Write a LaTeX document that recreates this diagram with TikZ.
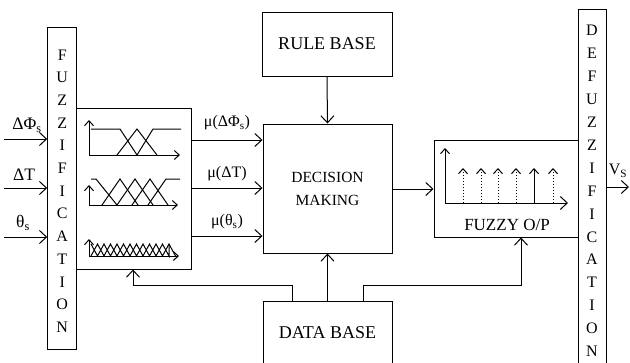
\documentclass[tikz,border=0pt]{standalone}
\usepackage{fontspec}
\setmainfont{Liberation Serif}
\usetikzlibrary{arrows.meta}
\begin{document}
\begin{tikzpicture}[x=1pt,y=-1pt,line width=1pt,
  box/.style={draw,inner sep=0pt,line width=1pt},
  arr/.style={-{Straight Barb[length=7pt,width=13pt,line width=1pt]}},
  sarr/.style={-{Straight Barb[length=5pt,width=9pt,line width=1pt]}},
  lbl/.style={inner sep=0pt,font=\fontsize{16}{18}\selectfont},
  col/.style={inner sep=0pt,align=center,font=\fontsize{16}{22.7}\selectfont}]
\useasboundingbox (0,0) rectangle (630,362);

% boxes
\node[box,minimum width=29pt,minimum height=322pt] (fuzz) at (62.2,188) {};
\node[col] (fuzzt) at (62.2,191)
  {F\\U\\Z\\Z\\I\\F\\I\\C\\A\\T\\I\\O\\N};
\node[box,minimum width=114.3pt,minimum height=161pt] (memb) at (133.85,188.5) {};
\node[box,minimum width=130pt,minimum height=64pt,font=\fontsize{18}{20}\selectfont] (rule) at (327,44) {RULE BASE};
\node[box,minimum width=129pt,minimum height=129pt,align=center,font=\fontsize{15.5}{23}\selectfont] (dec) at (327.5,188.5) {DECISION\\MAKING};
\node[box,minimum width=129pt,minimum height=64pt,font=\fontsize{18}{20}\selectfont] (data) at (327.5,333) {DATA BASE};
\node[box,minimum width=144pt,minimum height=97pt] (fop) at (506,188.5) {};
\node[box,minimum width=28pt,minimum height=363pt] (defuzz) at (592,190.5) {};
\node[col,font=\fontsize{16}{22.9}\selectfont] (defuzzt) at (592,191)
  {D\\E\\F\\U\\Z\\Z\\I\\F\\I\\C\\A\\T\\I\\O\\N};

% inputs
\coordinate (i1) at (4,139);
\coordinate (i2) at (4,188);
\coordinate (i3) at (4,237);
\draw[arr] (i1) -- (i1 -| fuzz.west);
\draw[arr] (i2) -- (i2 -| fuzz.west);
\draw[arr] (i3) -- (i3 -| fuzz.west);
\node[lbl,font=\fontsize{17.5}{19}\selectfont] (li1) at (27,125) {ΔΦ\textsubscript{s}};
\node[lbl,font=\fontsize{17.5}{19}\selectfont] (li2) at (24,175) {ΔT};
\node[lbl,font=\fontsize{17.5}{19}\selectfont] (li3) at (23,223) {θ\textsubscript{s}};

% membership to decision
\coordinate (m1) at (0,140);
\coordinate (m2) at (0,188);
\coordinate (m3) at (0,236);
\draw[arr] (memb.east |- m1) -- (dec.west |- m1);
\draw[arr] (memb.east |- m2) -- (dec.west |- m2);
\draw[arr] (memb.east |- m3) -- (dec.west |- m3);
\node[lbl] (lm1) at (227,123) {μ(ΔΦ\textsubscript{s})};
\node[lbl] (lm2) at (227,174) {μ(ΔT)};
\node[lbl] (lm3) at (227,222) {μ(θ\textsubscript{s})};

% rule / data to decision
\draw[arr] (rule.south) -- (dec.north);
\draw[arr] (data.north) -- (dec.south);

% decision to fuzzy o/p
\coordinate (d1) at (0,189);
\draw[arr] (dec.east |- d1) -- (fop.west |- d1);

% feedback lines from data base
\coordinate (c1) at (292,285);
\coordinate (c2) at (133,285);
\coordinate (c3) at (363,285);
\coordinate (c4) at (521,285);
\draw[arr] (data.north -| c1) -- (c1) -- (c2) -- (memb.south -| c2);
\draw[arr] (data.north -| c3) -- (c3) -- (c4) -- (fop.south -| c4);

% output
\coordinate (vs) at (629,187);
\draw[arr] (defuzz.east |- vs) -- (vs);
\node[lbl] (lvs) at (618,171) {V\textsubscript{S}};

% membership graph 1
\draw[sarr] (89,155) -- (89,120);
\draw[sarr] (89,155) -- (180,155);
\draw (91,129) -- (120,129) -- (137,155);
\draw (117,155) -- (137,129) -- (157,155);
\draw (137,155) -- (153,129) -- (181,129);

% membership graph 2
\draw[sarr] (89,205) -- (89,185);
\draw[sarr] (89,205) -- (178,205);
\draw (91,179) -- (96,179) -- (117,205);
\draw (102,205) -- (120,179) -- (138,205);
\draw (117,205) -- (135,179) -- (153,205);
\draw (132,205) -- (150,179) -- (168,205);
\draw (148,205) -- (166,179) -- (180,179);

% membership graph 3
\draw[sarr] (89,256) -- (89,239);
\draw[sarr] (89,256) -- (179,256);
\draw (91,244) \foreach \k in {1,...,6} { -- ({91+(2*\k-1)*6.5},256) -- ({91+2*\k*6.5},244)} -- (175.5,256);
\draw (91,256) \foreach \k in {1,...,6} { -- ({91+(2*\k-1)*6.5},244) -- ({91+2*\k*6.5},256)} -- (169,244);

% fuzzy output graph
\draw[sarr] (445,203) -- (445,148);
\draw[arr] (445,203) -- (568,203);
\foreach \x in {463,481,498,516,553} \draw[sarr,dotted] (\x,203) -- (\x,168);
\draw[sarr] (534,203) -- (534,168);
\node[inner sep=0pt,font=\fontsize{17}{19}\selectfont] (lfop) at (507,225) {FUZZY O/P};
\end{tikzpicture}
\end{document}
